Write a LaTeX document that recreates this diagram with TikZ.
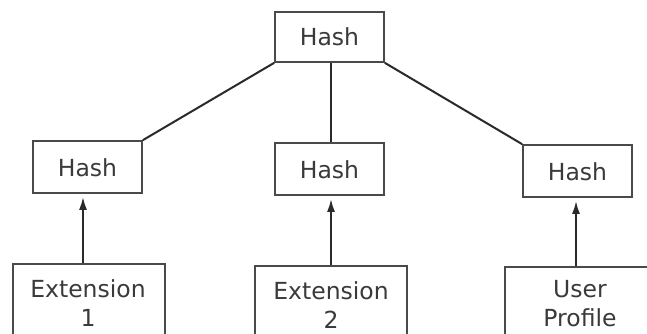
\documentclass[tikz,border=0pt]{standalone}
\usepackage{fontspec}
\setmainfont{DejaVu Sans}
\usetikzlibrary{arrows.meta}
\definecolor{boxline}{HTML}{4A4A4A}
\definecolor{conn}{HTML}{2A2A2A}
\definecolor{txt}{HTML}{3A3A3A}
\begin{document}
\begin{tikzpicture}[x=1pt,y=-1pt,
  hashbox/.style={draw=boxline, line width=1.7pt, fill=white, minimum width=109pt, inner sep=0pt},
  leafbox/.style={draw=boxline, line width=1.7pt, fill=white, minimum width=152pt, minimum height=100pt, anchor=north, inner sep=0pt},
  lbl/.style={text=txt, font=\fontsize{23.5}{29}\selectfont, align=center, inner sep=0pt, anchor=base},
  conline/.style={draw=conn, line width=2pt},
  arr/.style={draw=conn, line width=2pt, -{Latex[length=13pt,width=8pt]}, shorten >=3pt}
]
\useasboundingbox (0,0) rectangle (647,333);
\clip (0,0) rectangle (647,333);
\fill[white] (0,0) rectangle (647,333);

% hash nodes
\node[hashbox, minimum height=50pt] (top) at (329.5,37) {};
\node[lbl] (toplbl) at (329.5,45) {Hash};
\node[hashbox, minimum height=52pt] (h1) at (87.5,167) {};
\node[lbl] (h1lbl) at (87.5,176) {Hash};
\node[hashbox, minimum height=52pt] (h2) at (329.5,169) {};
\node[lbl] (h2lbl) at (329.5,178) {Hash};
\node[hashbox, minimum height=52pt] (h3) at (577.5,171) {};
\node[lbl] (h3lbl) at (577.5,180) {Hash};

% leaf nodes
\node[leafbox] (e1) at (89,263) {};
\node[lbl] (e1lbl) at (88,326) {Extension\\1};
\node[leafbox] (e2) at (331,265) {};
\node[lbl] (e2lbl) at (331,328) {Extension\\2};
\node[leafbox] (up) at (581,266) {};
\node[lbl] (uplbl) at (580,326) {User\\Profile};

% connectors
\draw[conline] (top.south west) -- (h1.north east);
\draw[conline] ([xshift=1pt]top.south) -- ([xshift=1pt]h2.north);
\draw[conline] (top.south east) -- (h3.north west);

\draw[arr] ([xshift=-6pt]e1.north) -- ([xshift=-4.5pt]h1.south);
\draw[arr] (e2.north) -- ([xshift=1.5pt]h2.south);
\draw[arr] ([xshift=-5pt]up.north) -- ([xshift=-1.5pt]h3.south);
\end{tikzpicture}
\end{document}
